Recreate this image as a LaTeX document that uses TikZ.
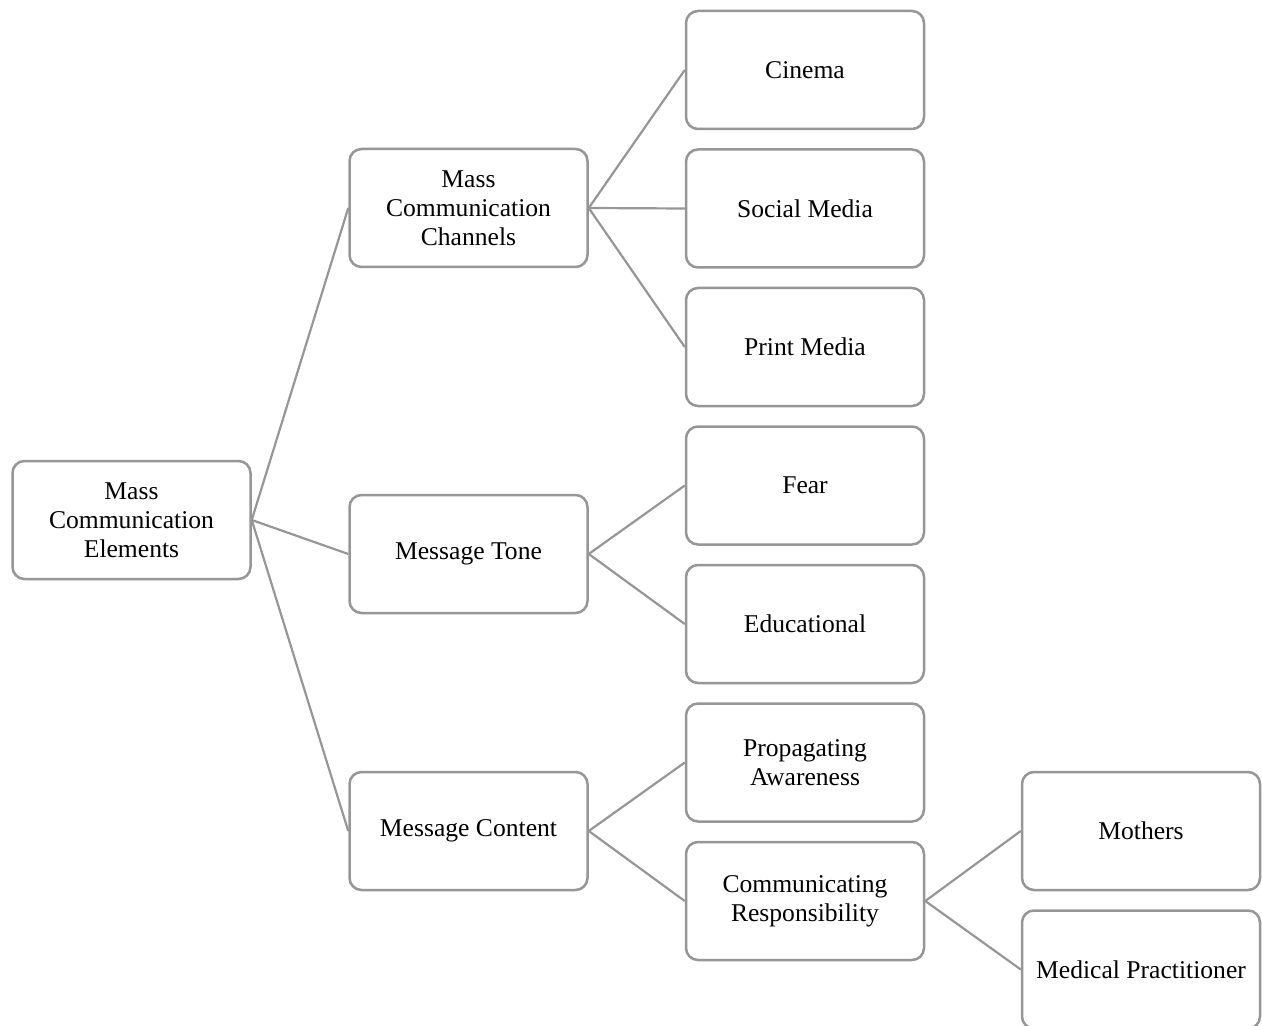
\documentclass[tikz,border=0pt]{standalone}
\usepackage{fontspec}
\setmainfont{Liberation Serif}
\definecolor{boxgray}{RGB}{150,150,150}
\begin{document}
\begin{tikzpicture}[x=0.5pt,y=-0.5pt,
  box/.style={draw=boxgray, line width=1.25pt, rounded corners=6pt,
    minimum width=119pt, minimum height=59pt, align=center,
    font=\fontsize{12.8}{14.5}\selectfont, inner sep=0pt, fill=white},
  link/.style={draw=boxgray, line width=1.1pt}]
\useasboundingbox (0,0) rectangle (1262,1026);
\node[box] (root) at (131.5,520) {Mass\\Communication\\Elements};
\node[box] (mcc) at (468.5,208) {Mass\\Communication\\Channels};
\node[box] (mt) at (468.5,554) {Message Tone};
\node[box] (mc) at (468.5,831) {Message Content};
\node[box] (cin) at (805,70) {Cinema};
\node[box] (soc) at (805,208.5) {Social Media};
\node[box] (pri) at (805,347) {Print Media};
\node[box] (fear) at (805,485.5) {Fear};
\node[box] (edu) at (805,624) {Educational};
\node[box] (prop) at (805,762.5) {Propagating\\Awareness};
\node[box] (comm) at (805,901) {Communicating\\Responsibility};
\node[box] (moth) at (1141,831) {Mothers};
\node[box] (med) at (1141,969.5) {Medical Practitioner};
\foreach \a/\b in {root/mcc,root/mt,root/mc,mcc/cin,mcc/soc,mcc/pri,mt/fear,mt/edu,mc/prop,mc/comm,comm/moth,comm/med}
  \draw[link] (\a.east) -- (\b.west);
\end{tikzpicture}
\end{document}
